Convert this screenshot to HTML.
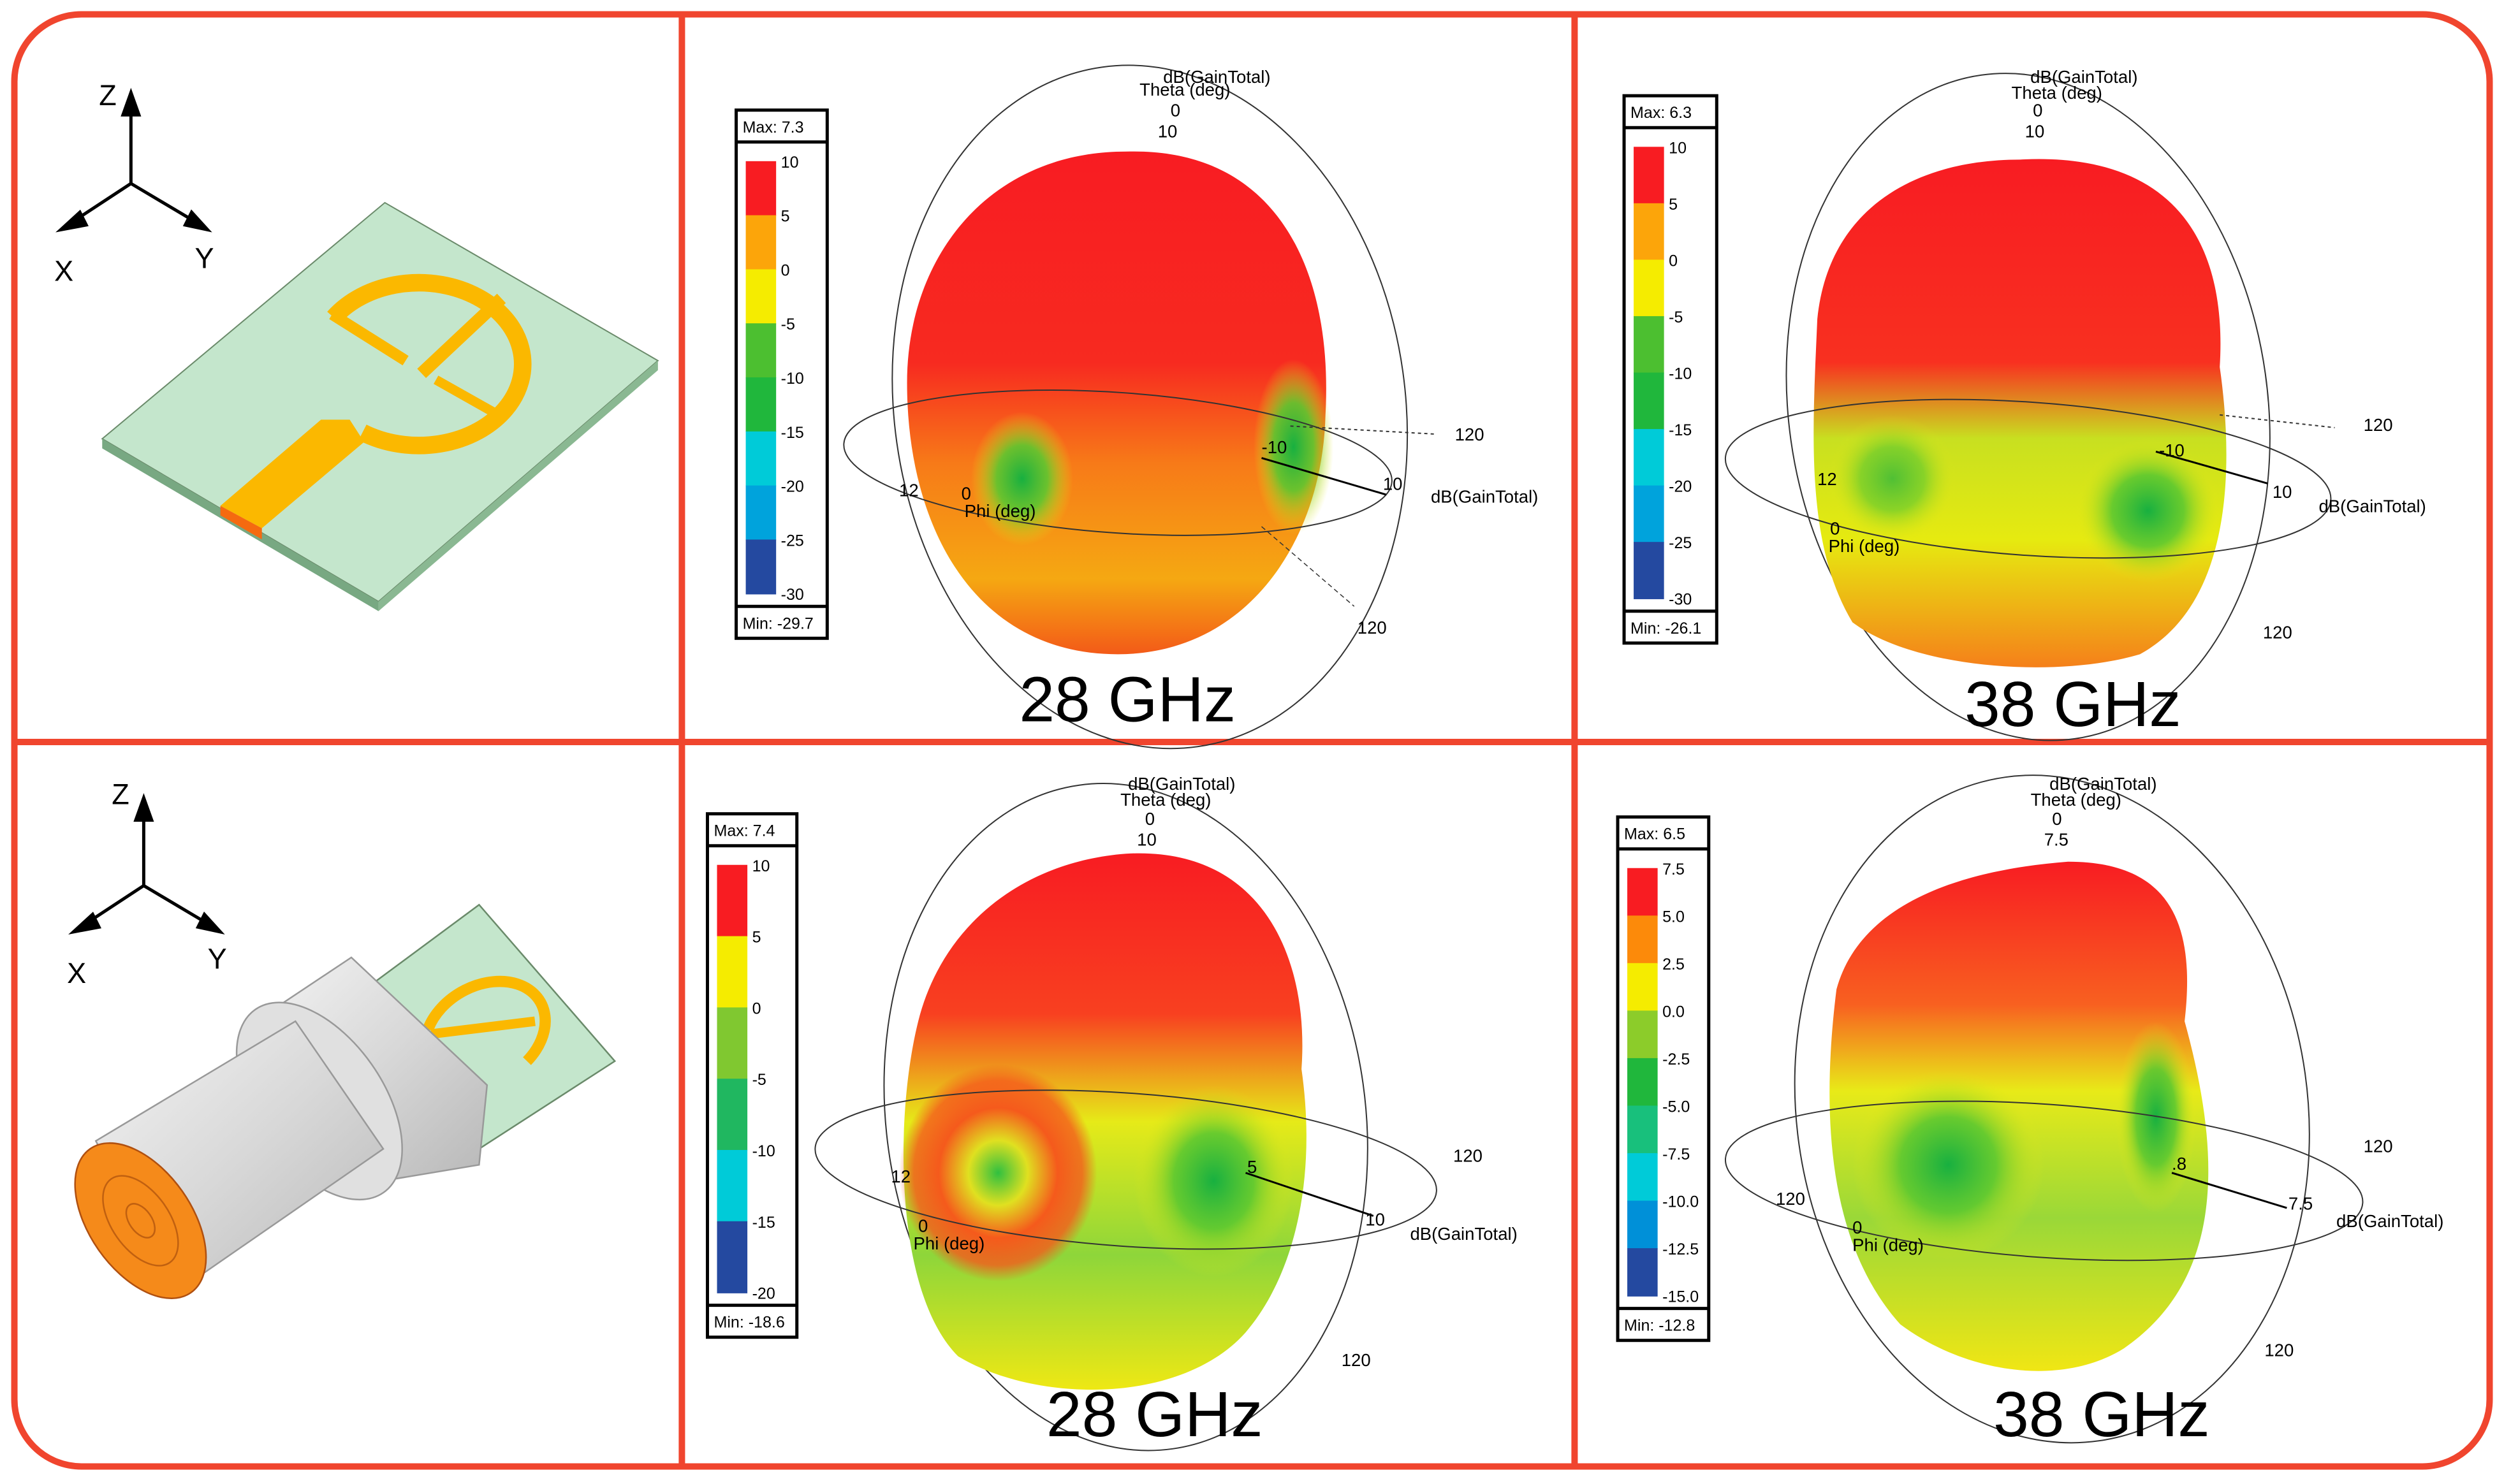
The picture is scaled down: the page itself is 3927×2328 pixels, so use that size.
<!DOCTYPE html>
<html><head><meta charset="utf-8">
<style>
html,body{margin:0;padding:0;background:#fff;}
svg{display:block;}
text{font-family:"Liberation Sans",sans-serif;}
</style></head>
<body>
<svg id="root" width="3927" height="2328" viewBox="0 0 1568 930" preserveAspectRatio="none" xmlns="http://www.w3.org/2000/svg">
<defs>
<linearGradient id="blobA" x1="0" y1="0" x2="0" y2="1">
<stop offset="0" stop-color="#f81c22"/><stop offset="0.42" stop-color="#f72a20"/><stop offset="0.62" stop-color="#f77a18"/><stop offset="0.85" stop-color="#f5a812"/><stop offset="1" stop-color="#f35a18"/></linearGradient>
<linearGradient id="blobB" x1="0" y1="0" x2="0" y2="1">
<stop offset="0" stop-color="#f81c22"/><stop offset="0.4" stop-color="#f83020"/><stop offset="0.55" stop-color="#c8e020"/><stop offset="0.75" stop-color="#e6ea10"/><stop offset="1" stop-color="#f5801a"/></linearGradient>
<linearGradient id="blobC" x1="0" y1="0" x2="0" y2="1">
<stop offset="0" stop-color="#f81c22"/><stop offset="0.3" stop-color="#f84020"/><stop offset="0.5" stop-color="#e6ea18"/><stop offset="0.75" stop-color="#8ed63a"/><stop offset="1" stop-color="#eee814"/></linearGradient>
<linearGradient id="blobD" x1="0" y1="0" x2="0" y2="1">
<stop offset="0" stop-color="#f81c22"/><stop offset="0.28" stop-color="#f86020"/><stop offset="0.45" stop-color="#e8ea18"/><stop offset="0.7" stop-color="#9ad838"/><stop offset="1" stop-color="#f0e614"/></linearGradient>
<radialGradient id="greenSpot"><stop offset="0" stop-color="#18b040"/><stop offset="0.5" stop-color="#5cc830" stop-opacity="0.9"/><stop offset="1" stop-color="#e8e818" stop-opacity="0"/></radialGradient>
<radialGradient id="ringOr"><stop offset="0" stop-color="#30c040"/><stop offset="0.3" stop-color="#e0e020"/><stop offset="0.6" stop-color="#f55a1c"/><stop offset="0.85" stop-color="#f55a1c" stop-opacity="0.8"/><stop offset="1" stop-color="#f55a1c" stop-opacity="0"/></radialGradient>
<linearGradient id="cyl" x1="0" y1="0" x2="1" y2="1"><stop offset="0" stop-color="#f4f4f4"/><stop offset="0.5" stop-color="#d8d8d8"/><stop offset="1" stop-color="#b8b8b8"/></linearGradient>
</defs>

<rect x="9" y="9" width="1550" height="910" rx="42" fill="#fff" stroke="#f0452e" stroke-width="4"/>
<line x1="427" y1="9" x2="427" y2="919" stroke="#f0452e" stroke-width="4"/>
<line x1="986" y1="9" x2="986" y2="919" stroke="#f0452e" stroke-width="4"/>
<line x1="9" y1="465" x2="1559" y2="465" stroke="#f0452e" stroke-width="4"/>

<g stroke="#000" stroke-width="2" fill="#000">
<line x1="82" y1="115" x2="82" y2="64"/><polygon points="82,58 77,72 87,72"/>
<line x1="82" y1="115" x2="44" y2="140"/><polygon points="38,144 50,133 54,141"/>
<line x1="82" y1="115" x2="124" y2="140"/><polygon points="130,144 116,141 120,133"/>
<text x="62" y="66" font-size="18" stroke="none">Z</text><text x="34" y="176" font-size="18" stroke="none">X</text><text x="122" y="168" font-size="18" stroke="none">Y</text>
</g>
<g>
<polygon points="64,275 241,127 412,226 237,377" fill="#c4e6cc" stroke="#6a8a6a" stroke-width="0.8"/>
<polygon points="64,275 237,377 237,383 64,281" fill="#78a882"/>
<polygon points="237,377 412,226 412,232 237,383" fill="#8ab892"/>
<path d="M209,199 A65,51 0 1 1 227,271" fill="none" stroke="#fbb800" stroke-width="11"/>
<line x1="208" y1="197" x2="254" y2="226" stroke="#fbb800" stroke-width="7"/>
<line x1="314" y1="187" x2="264" y2="234" stroke="#fbb800" stroke-width="8"/>
<line x1="273" y1="238" x2="312" y2="260" stroke="#fbb800" stroke-width="6"/>
<polygon points="138,317 201,263 219,263 228,277 164,331" fill="#fbb800"/>
<polygon points="138,317 164,331 164,338 138,323" fill="#f56a10"/>
</g>

<g stroke="#000" stroke-width="2" fill="#000">
<line x1="90" y1="555" x2="90" y2="506"/><polygon points="90,500 85,514 95,514"/>
<line x1="90" y1="555" x2="52" y2="580"/><polygon points="46,584 58,573 62,581"/>
<line x1="90" y1="555" x2="132" y2="580"/><polygon points="138,584 124,581 128,573"/>
<text x="70" y="504" font-size="18" stroke="none">Z</text><text x="42" y="616" font-size="18" stroke="none">X</text><text x="130" y="607" font-size="18" stroke="none">Y</text>
</g>
<g>
<polygon points="215,630 300,567 385,665 300,720" fill="#c4e6cc" stroke="#6a8a6a"/>
<path d="M268,645 A40,30 -30 1 1 330,665" fill="none" stroke="#fbb800" stroke-width="7"/>
<line x1="270" y1="648" x2="335" y2="640" stroke="#fbb800" stroke-width="6"/>
<line x1="232" y1="680" x2="270" y2="660" stroke="#fbb800" stroke-width="8"/>
<polygon points="160,640 220,600 305,680 300,730 240,740" fill="url(#cyl)" stroke="#999"/>
<ellipse cx="200" cy="690" rx="40" ry="70" transform="rotate(-35 200 690)" fill="#e0e0e0" stroke="#999"/>
<polygon points="60,715 185,640 240,720 110,810" fill="url(#cyl)" stroke="#999"/>
<ellipse cx="88" cy="765" rx="32" ry="55" transform="rotate(-35 88 765)" fill="#f58a1a" stroke="#b05010"/>
<ellipse cx="88" cy="765" rx="18" ry="32" transform="rotate(-35 88 765)" fill="none" stroke="#c06010"/>
<ellipse cx="88" cy="765" rx="7" ry="12" transform="rotate(-35 88 765)" fill="none" stroke="#c06010"/>
</g>

<g id="p1">
<ellipse cx="720" cy="255" rx="160" ry="215" transform="rotate(-8 720 255)" fill="none" stroke="#333" stroke-width="0.8"/>
<path d="M705,95 C800,92 835,170 830,260 C828,340 780,410 700,410 C610,410 568,330 568,240 C568,160 620,95 705,95 Z" fill="url(#blobA)"/>
<ellipse cx="640" cy="300" rx="32" ry="42" fill="url(#greenSpot)"/>
<ellipse cx="810" cy="280" rx="25" ry="55" fill="url(#greenSpot)"/>
<ellipse cx="700" cy="290" rx="172" ry="44" transform="rotate(4 700 290)" fill="none" stroke="#333" stroke-width="0.8"/>
<line x1="790" y1="287" x2="868" y2="310" stroke="#000" stroke-width="1.2"/>
<line x1="808" y1="267" x2="898" y2="272" stroke="#333" stroke-dasharray="2,2" stroke-width="0.8"/>
<line x1="790" y1="330" x2="848" y2="380" stroke="#333" stroke-dasharray="3,2" stroke-width="0.6"/>
<text x="762" y="52" font-size="11" text-anchor="middle">dB(GainTotal)</text><text x="742" y="60" font-size="11" text-anchor="middle">Theta (deg)</text>
<text x="733" y="73" font-size="11">0</text><text x="725" y="86" font-size="11">10</text>
<text x="911" y="276" font-size="11">120</text><text x="866" y="307" font-size="11">10</text>
<text x="896" y="315" font-size="11">dB(GainTotal)</text><text x="790" y="284" font-size="11">-10</text>
<text x="563" y="311" font-size="11">12</text><text x="602" y="313" font-size="11">0</text><text x="604" y="324" font-size="11">Phi (deg)</text>
<text x="850" y="397" font-size="11">120</text>
<text x="706" y="452" font-size="40" text-anchor="middle">28 GHz</text>
</g>

<g id="p2">
<ellipse cx="1270" cy="255" rx="150" ry="210" transform="rotate(-8 1270 255)" fill="none" stroke="#333" stroke-width="0.8"/>
<path d="M1265,100 C1360,95 1395,150 1390,230 C1400,300 1395,380 1340,410 C1290,425 1200,420 1160,390 C1130,340 1135,270 1138,200 C1145,130 1200,100 1265,100 Z" fill="url(#blobB)"/>
<ellipse cx="1185" cy="300" rx="40" ry="40" fill="url(#greenSpot)" opacity="0.7"/>
<ellipse cx="1345" cy="320" rx="45" ry="45" fill="url(#greenSpot)"/>
<ellipse cx="1270" cy="300" rx="190" ry="48" transform="rotate(4 1270 300)" fill="none" stroke="#333" stroke-width="0.8"/>
<line x1="1350" y1="283" x2="1420" y2="303" stroke="#000" stroke-width="1.2"/>
<line x1="1390" y1="260" x2="1462" y2="268" stroke="#333" stroke-dasharray="2,2" stroke-width="0.8"/>
<text x="1305" y="52" font-size="11" text-anchor="middle">dB(GainTotal)</text><text x="1288" y="62" font-size="11" text-anchor="middle">Theta (deg)</text>
<text x="1273" y="73" font-size="11">0</text><text x="1268" y="86" font-size="11">10</text>
<text x="1480" y="270" font-size="11">120</text><text x="1423" y="312" font-size="11">10</text>
<text x="1452" y="321" font-size="11">dB(GainTotal)</text><text x="1352" y="286" font-size="11">-10</text>
<text x="1138" y="304" font-size="11">12</text><text x="1146" y="335" font-size="11">0</text><text x="1145" y="346" font-size="11">Phi (deg)</text>
<text x="1417" y="400" font-size="11">120</text>
<text x="1298" y="455" font-size="40" text-anchor="middle">38 GHz</text>
</g>

<g id="p3">
<ellipse cx="705" cy="700" rx="150" ry="210" transform="rotate(-8 705 700)" fill="none" stroke="#333" stroke-width="0.8"/>
<path d="M705,535 C790,530 820,600 815,670 C825,740 810,800 780,835 C740,880 650,880 600,850 C560,810 560,700 575,640 C590,580 640,540 705,535 Z" fill="url(#blobC)"/>
<ellipse cx="625" cy="735" rx="62" ry="68" fill="url(#ringOr)"/>
<ellipse cx="760" cy="740" rx="50" ry="60" fill="url(#greenSpot)"/>
<ellipse cx="705" cy="733" rx="195" ry="48" transform="rotate(4 705 733)" fill="none" stroke="#333" stroke-width="0.8"/>
<line x1="780" y1="735" x2="860" y2="762" stroke="#000" stroke-width="1.2"/>
<text x="740" y="495" font-size="11" text-anchor="middle">dB(GainTotal)</text><text x="730" y="505" font-size="11" text-anchor="middle">Theta (deg)</text>
<text x="717" y="517" font-size="11">0</text><text x="712" y="530" font-size="11">10</text>
<text x="910" y="728" font-size="11">120</text><text x="855" y="768" font-size="11">10</text>
<text x="883" y="777" font-size="11">dB(GainTotal)</text><text x="781" y="735" font-size="11">5</text>
<text x="558" y="741" font-size="11">12</text><text x="575" y="772" font-size="11">0</text><text x="572" y="783" font-size="11">Phi (deg)</text>
<text x="840" y="856" font-size="11">120</text>
<text x="723" y="900" font-size="40" text-anchor="middle">28 GHz</text>
</g>

<g id="p4">
<ellipse cx="1285" cy="695" rx="160" ry="210" transform="rotate(-8 1285 695)" fill="none" stroke="#333" stroke-width="0.8"/>
<path d="M1295,540 C1360,540 1375,580 1368,640 C1390,720 1395,800 1330,845 C1290,870 1230,860 1190,830 C1145,780 1140,700 1150,620 C1165,565 1230,545 1295,540 Z" fill="url(#blobD)"/>
<ellipse cx="1220" cy="730" rx="60" ry="60" fill="url(#greenSpot)"/>
<ellipse cx="1350" cy="700" rx="25" ry="60" fill="url(#greenSpot)"/>
<ellipse cx="1280" cy="740" rx="200" ry="48" transform="rotate(4 1280 740)" fill="none" stroke="#333" stroke-width="0.8"/>
<line x1="1360" y1="735" x2="1432" y2="757" stroke="#000" stroke-width="1.2"/>
<text x="1317" y="495" font-size="11" text-anchor="middle">dB(GainTotal)</text><text x="1300" y="505" font-size="11" text-anchor="middle">Theta (deg)</text>
<text x="1285" y="517" font-size="11">0</text><text x="1280" y="530" font-size="11">7.5</text>
<text x="1480" y="722" font-size="11">120</text><text x="1433" y="758" font-size="11">7.5</text>
<text x="1463" y="769" font-size="11">dB(GainTotal)</text><text x="1360" y="733" font-size="11">.8</text>
<text x="1112" y="755" font-size="11">120</text><text x="1160" y="773" font-size="11">0</text><text x="1160" y="784" font-size="11">Phi (deg)</text>
<text x="1418" y="850" font-size="11">120</text>
<text x="1316" y="900" font-size="40" text-anchor="middle">38 GHz</text>
</g>
<g id="bars"></g>
</svg>
<script>
const cb1Ticks = ["10","5","0","-5","-10","-15","-20","-25","-30"];
const cb1Colors = ["#f81c22","#fca50a","#f5ec00","#4cbf30","#20b73c","#00cbd8","#00a3dc","#2449a0"];
const cb1Max = "Max: 7.3", cb1Min = "Min: -29.7";
const cb2Ticks = ["10","5","0","-5","-10","-15","-20","-25","-30"];
const cb2Colors = cb1Colors;
const cb2Max = "Max: 6.3", cb2Min = "Min: -26.1";
const cb3Ticks = ["10","5","0","-5","-10","-15","-20"];
const cb3Colors = ["#f81c22","#f5ec00","#80c830","#20b760","#00cbd8","#2449a0"];
const cb3Max = "Max: 7.4", cb3Min = "Min: -18.6";
const cb4Ticks = ["7.5","5.0","2.5","0.0","-2.5","-5.0","-7.5","-10.0","-12.5","-15.0"];
const cb4Colors = ["#f81c22","#fc8a0a","#f5ec00","#8ccc2a","#20b73c","#18c07c","#00cbd8","#0090d8","#2449a0"];
const cb4Max = "Max: 6.5", cb4Min = "Min: -12.8";

const NS="http://www.w3.org/2000/svg";
const host=document.getElementById('bars');
function mk(tag,attrs,parent){const e=document.createElementNS(NS,tag);for(const k in attrs)e.setAttribute(k,attrs[k]);parent.appendChild(e);return e;}
function colorbar(x,y,w,h,ticks,colors,maxT,minT){
  const g=mk('g',{},host);
  
  
  mk('rect',{x:x,y:y,width:w,height:h,fill:'#fff',stroke:'#000','stroke-width':2},g);
  mk('line',{x1:x,y1:y+20,x2:x+w,y2:y+20,stroke:'#000','stroke-width':2},g);
  mk('line',{x1:x,y1:y+h-20,x2:x+w,y2:y+h-20,stroke:'#000','stroke-width':2},g);
  const t1=mk('text',{x:x+4,y:y+14,'font-size':10},g);t1.textContent=maxT;
  const t2=mk('text',{x:x+4,y:y+h-6,'font-size':10},g);t2.textContent=minT;
  const top=y+32,bot=y+h-28,n=colors.length,sh=(bot-top)/n;
  colors.forEach((c,i)=>{
    const r=mk('rect',{x:x+6,y:top+i*sh,width:19,height:sh+0.5,fill:c},g);
    
    
  });
  ticks.forEach((t,i)=>{
    const tx=mk('text',{x:x+28,y:top+i*(bot-top)/(ticks.length-1)+4,'font-size':10},g);
    tx.textContent=t;
    
    
  });
}
colorbar(461,69,57,331,cb1Ticks,cb1Colors,cb1Max,cb1Min);
colorbar(1017,60,58,343,cb2Ticks,cb2Colors,cb2Max,cb2Min);
colorbar(443,510,56,328,cb3Ticks,cb3Colors,cb3Max,cb3Min);
colorbar(1013,512,57,328,cb4Ticks,cb4Colors,cb4Max,cb4Min);
</script>
</body></html>
